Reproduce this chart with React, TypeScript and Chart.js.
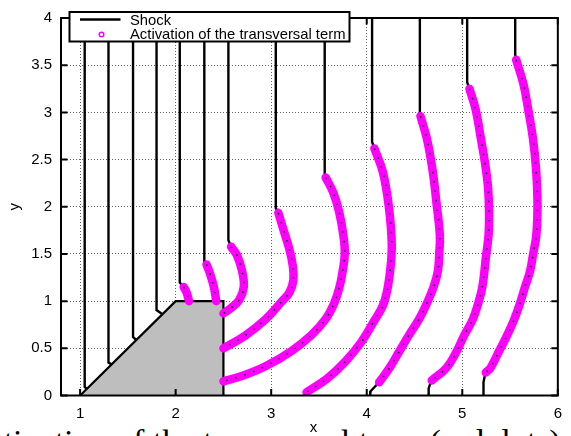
import React, { useEffect, useRef } from "react";
import { Chart, registerables } from "chart.js";

Chart.register(...registerables);

type P = [number, number];

// ---- axes ----
const xTickValues = [1, 2, 3, 4, 5, 6];
const yTickValues = [0, 0.5, 1, 1.5, 2, 2.5, 3, 3.5, 4];
const xTitle = "x";
const yTitle = "y";
const legendLabels = ["Shock", "Activation of the transversal term"];
const caption = "Activation of the transversal term (red dots).";

// ---- obstacle (wedge + step) ----
const obstacle: P[] = [[1, 0], [2, 1], [2.5, 1], [2.5, 0]];

// ---- shock fronts (black) ----
const shock01: P[] = [[1.048, 4], [1.048, 0.09], [1.07, 0.07]];
const shock02: P[] = [[1.297, 4], [1.297, 0.35], [1.33, 0.33]];
const shock03: P[] = [[1.554, 4], [1.554, 0.62], [1.588, 0.588]];
const shock04: P[] = [[1.8, 4], [1.8, 0.905], [1.862, 0.862]];
const shock05: P[] = [[2.043, 4], [2.043, 1.197], [2.07, 1.165], [2.084, 1.15]];
const shock06: P[] = [[2.3, 4], [2.3, 1.42], [2.323, 1.389]];
const shock07: P[] = [[2.552, 4], [2.552, 1.645], [2.58, 1.576]];
const shock08: P[] = [[3.048, 4], [3.048, 1.985], [3.075, 1.935]];
const shock09: P[] = [[3.56, 4], [3.56, 2.344], [3.57, 2.31]];
const shock10: P[] = [[4.056, 4], [4.056, 2.686], [4.08, 2.618]];
const shock11: P[] = [[4.556, 4], [4.556, 2.99], [4.562, 2.96]];
const shock12: P[] = [[5.051, 4], [5.051, 3.32], [5.075, 3.25]];
const shock13: P[] = [[5.554, 4], [5.554, 3.61], [5.564, 3.557]];

// ---- lower tails of shock fronts (black) ----
const tail10: P[] = [[3.37, 0.035], [3.35, 0]];
const tail11: P[] = [[4.13, 0.14], [4.04, 0.045], [4.036, 0]];
const tail12: P[] = [[4.68, 0.16], [4.665, 0.125], [4.648, 0.075], [4.648, 0]];
const tail13: P[] = [[5.246, 0.244], [5.236, 0.21], [5.222, 0.141], [5.222, 0]];

// ---- activation of the transversal term (magenta) ----
const active05: P[] = [[2.084, 1.15], [2.115, 1.09], [2.14, 1.0]];
const active06: P[] = [[2.323, 1.389], [2.36, 1.29], [2.4, 1.15], [2.425, 1.0]];
const active07: P[] = [[2.58, 1.576], [2.64, 1.49], [2.695, 1.32], [2.713, 1.15], [2.665, 1.012], [2.58, 0.927], [2.5, 0.87]];
const active08: P[] = [[3.075, 1.935], [3.13, 1.75], [3.19, 1.55], [3.225, 1.38], [3.232, 1.22], [3.19, 1.09], [3.11, 0.996], [2.94, 0.807], [2.73, 0.637], [2.5, 0.5]];
const active09: P[] = [[3.57, 2.31], [3.65, 2.15], [3.71, 1.95], [3.755, 1.7], [3.77, 1.5], [3.745, 1.3], [3.715, 1.15], [3.66, 0.98], [3.57, 0.81], [3.42, 0.64], [3.21, 0.47], [2.94, 0.31], [2.7, 0.21], [2.5, 0.15]];
const active10: P[] = [[4.08, 2.618], [4.169, 2.367], [4.231, 2.003], [4.262, 1.593], [4.241, 1.286], [4.179, 0.978], [4.067, 0.773], [3.944, 0.568], [3.779, 0.363], [3.585, 0.179], [3.37, 0.035]];
const active11: P[] = [[4.562, 2.96], [4.63, 2.72], [4.69, 2.38], [4.73, 2.04], [4.765, 1.696], [4.758, 1.49], [4.745, 1.32], [4.7, 1.15], [4.63, 0.978], [4.546, 0.807], [4.44, 0.637], [4.34, 0.466], [4.24, 0.295], [4.13, 0.14]];
const active12: P[] = [[5.075, 3.25], [5.14, 3.03], [5.195, 2.72], [5.24, 2.45], [5.27, 2.2], [5.28, 1.95], [5.275, 1.7], [5.25, 1.49], [5.21, 1.15], [5.167, 0.978], [5.11, 0.807], [5.02, 0.637], [4.94, 0.466], [4.836, 0.295], [4.68, 0.16]];
const active13: P[] = [[5.564, 3.557], [5.64, 3.3], [5.69, 3.03], [5.74, 2.72], [5.772, 2.4], [5.787, 2.04], [5.775, 1.7], [5.74, 1.49], [5.71, 1.32], [5.656, 1.15], [5.605, 0.978], [5.544, 0.807], [5.469, 0.637], [5.383, 0.466], [5.297, 0.295], [5.246, 0.244]];

const shocks = [shock01, shock02, shock03, shock04, shock05, shock06, shock07, shock08, shock09, shock10, shock11, shock12, shock13];
const tails = [tail10, tail11, tail12, tail13];
const actives = [active05, active06, active07, active08, active09, active10, active11, active12, active13];

const FONT = '"Liberation Sans", Arial, sans-serif';
const MAGENTA = "#ff00ff";

const toXY = (a: P[]) => a.map(([x, y]) => ({ x, y }));

const decorPlugin = {
  id: "decor",
  afterDatasetsDraw(chart: any) {
    const { ctx, chartArea: a, scales } = chart;
    const xs = scales.x;
    const ys = scales.y;
    ctx.save();
    ctx.strokeStyle = "#000";
    ctx.lineWidth = 2;
    ctx.beginPath();
    for (const v of xTickValues) {
      const px = xs.getPixelForValue(v);
      ctx.moveTo(px, a.bottom);
      ctx.lineTo(px, a.bottom - 6.5);
      ctx.moveTo(px, a.top);
      ctx.lineTo(px, a.top + 6.5);
    }
    for (const v of yTickValues) {
      const py = ys.getPixelForValue(v);
      ctx.moveTo(a.left, py);
      ctx.lineTo(a.left + 6.5, py);
      ctx.moveTo(a.right, py);
      ctx.lineTo(a.right - 6.5, py);
    }
    ctx.stroke();
    ctx.strokeRect(a.left, a.top, a.right - a.left, a.bottom - a.top);

    // legend
    ctx.fillStyle = "#fff";
    ctx.fillRect(69.5, 12, 280, 29.5);
    ctx.lineWidth = 2;
    ctx.strokeRect(69.5, 12, 280, 29.5);
    ctx.lineWidth = 2.5;
    ctx.beginPath();
    ctx.moveTo(80, 19.5);
    ctx.lineTo(120.5, 19.5);
    ctx.stroke();
    ctx.strokeStyle = MAGENTA;
    ctx.lineWidth = 1.5;
    ctx.beginPath();
    ctx.arc(101.5, 34.5, 2.3, 0, Math.PI * 2);
    ctx.stroke();
    ctx.fillStyle = "#000";
    ctx.font = `14.8px ${FONT}`;
    ctx.textAlign = "left";
    ctx.textBaseline = "alphabetic";
    ctx.fillText(legendLabels[0], 130, 25);
    ctx.fillText(legendLabels[1], 130, 39.3);

    // axis titles
    ctx.font = `15px ${FONT}`;
    ctx.textAlign = "center";
    ctx.fillText(xTitle, 313.5, 432);
    ctx.save();
    ctx.translate(18.5, (a.top + a.bottom) / 2);
    ctx.rotate(-Math.PI / 2);
    ctx.fillText(yTitle, 0, 0);
    ctx.restore();
    ctx.restore();
  },
};

export default function App() {
  const ref = useRef<HTMLCanvasElement>(null);

  useEffect(() => {
    const datasets: any[] = [];
    datasets.push({
      data: toXY(obstacle),
      showLine: true,
      fill: "origin",
      backgroundColor: "#bebebe",
      borderColor: "#000",
      borderWidth: 2.2,
      pointRadius: 0,
      tension: 0,
      order: 20,
    });
    for (const s of [...shocks, ...tails]) {
      datasets.push({
        data: toXY(s),
        showLine: true,
        borderColor: "#000",
        borderWidth: 2.4,
        pointRadius: 0,
        tension: 0,
        fill: false,
        order: 10,
      });
    }
    for (const s of actives) {
      datasets.push({
        data: toXY(s),
        showLine: true,
        borderColor: MAGENTA,
        borderWidth: 8.5,
        borderCapStyle: "round",
        borderJoinStyle: "round",
        pointRadius: 0,
        tension: 0.4,
        fill: false,
        order: 5,
      });
      datasets.push({
        data: toXY(s),
        showLine: true,
        borderColor: "#000",
        borderWidth: 1.5,
        borderDash: [1.5, 8],
        pointRadius: 0,
        tension: 0.4,
        fill: false,
        order: 4,
      });
    }

    const chart = new Chart(ref.current as HTMLCanvasElement, {
      type: "scatter",
      data: { datasets },
      options: {
        responsive: false,
        animation: false,
        devicePixelRatio: 1,
        events: [],
        layout: {
          padding: { left: 0, right: 2.3, top: 5.7, bottom: 0 },
          autoPadding: false,
        } as any,
        plugins: { legend: { display: false }, tooltip: { enabled: false } },
        scales: {
          x: {
            type: "linear",
            min: 0.8,
            max: 6,
            afterBuildTicks: (s: any) => {
              s.ticks = xTickValues.map((v) => ({ value: v }));
            },
            afterFit: (s: any) => {
              s.height = 40.5;
            },
            ticks: {
              font: { family: FONT, size: 15 },
              color: "#000",
              padding: 9,
              maxRotation: 0,
              autoSkip: false,
              callback: (v: any) => String(+v),
            },
            grid: { drawTicks: false, color: "#666", lineWidth: 1 },
            border: { display: false, dash: [1, 2] },
          },
          y: {
            type: "linear",
            min: 0,
            max: 4,
            afterBuildTicks: (s: any) => {
              s.ticks = yTickValues.map((v) => ({ value: v }));
            },
            afterFit: (s: any) => {
              s.width = 61;
            },
            ticks: {
              font: { family: FONT, size: 15 },
              color: "#000",
              padding: 9,
              autoSkip: false,
              callback: (v: any) => String(+v),
            },
            grid: { drawTicks: false, color: "#666", lineWidth: 1 },
            border: { display: false, dash: [1, 2] },
          },
        },
      },
      plugins: [decorPlugin],
    } as any);
    return () => chart.destroy();
  }, []);

  return (
    <div
      style={{
        position: "fixed",
        left: 0,
        top: 0,
        width: 571,
        height: 436,
        overflow: "hidden",
        background: "#fff",
      }}
    >
      <div
        style={{
          position: "absolute",
          left: -36,
          top: 423,
          fontFamily: '"Liberation Serif", "Times New Roman", serif',
          fontSize: 34,
          lineHeight: "normal",
          whiteSpace: "nowrap",
          color: "#000",
        }}
      >
        {caption}
      </div>
      <canvas
        ref={ref}
        width={571}
        height={436}
        style={{ position: "absolute", left: 0, top: 0, width: 571, height: 436 }}
      />
    </div>
  );
}
